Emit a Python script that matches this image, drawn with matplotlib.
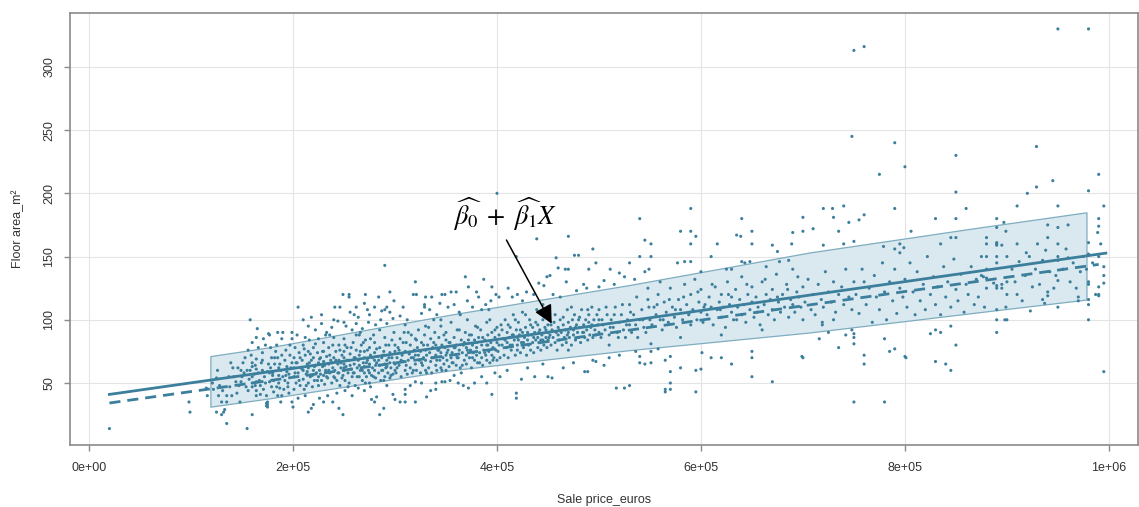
import matplotlib.pyplot as plt
from matplotlib.ticker import FuncFormatter

# sale price (thousand euros), floor area (m2)
pts_under_200k = [
    (20, 14), (98, 35), (99, 27), (115, 46), (116, 40), (125, 54), (127, 40), (130, 35), (135, 40), (140, 40),
    (135, 35), (133, 29), (125, 27), (130, 25), (135, 18), (132, 27), (160, 25), (155, 14), (138, 47), (144, 51),
    (149, 51), (149, 60), (155, 60), (154, 47), (160, 47), (160, 50), (160, 55), (164, 51), (164, 44), (164, 40),
    (168, 41), (174, 40), (174, 34), (174, 32), (160, 66), (160, 63), (164, 69), (164, 61), (170, 74), (170, 68),
    (160, 82), (164, 86), (165, 93), (158, 100), (176, 89), (177, 88), (185, 90), (190, 90), (199, 90), (199, 85),
    (189, 85), (179, 70), (185, 70), (175, 59), (180, 56), (177, 51), (179, 47), (184, 47), (195, 47), (195, 50),
    (189, 40), (175, 35), (175, 33), (175, 31), (185, 40), (194, 63), (194, 59), (187, 65), (158, 60),
    (150, 55), (152, 58), (157, 53), (162, 57), (167, 52), (170, 60), (172, 55), (178, 62), (180, 58), (182, 65),
    (186, 56), (188, 60), (190, 55), (192, 68), (196, 57), (198, 62), (183, 75), (178, 78), (193, 76), (197, 72),
    (168, 48), (171, 45), (181, 43), (186, 50), (191, 45), (196, 42), (145, 42), (142, 55), (128, 48), (122, 45),
    (146, 62), (153, 70), (166, 78), (173, 80), (181, 52), (187, 46), (192, 52), (199, 66), (176, 65), (163, 64),
    (121, 50), (126, 60), (131, 44), (137, 55), (141, 62), (147, 48), (151, 66), (156, 44), (159, 72), (163, 48),
    (166, 58), (169, 66), (173, 50), (177, 58), (182, 70), (186, 62), (189, 72), (193, 56), (197, 80), (171, 85),
    (184, 80), (156, 76), (139, 66), (148, 35), (188, 35),
]
pts_200_300k = [
    (205, 110), (241, 110), (246, 110), (249, 120), (255, 120), (255, 118), (271, 120), (295, 122), (270, 113), (299, 115),
    (280, 110), (287, 107), (290, 108), (295, 106), (260, 104), (264, 102), (256, 106), (275, 104), (290, 143), (210, 100),
    (215, 95), (222, 92), (228, 97), (233, 90), (238, 94), (244, 99), (252, 95), (258, 92), (262, 97), (268, 93),
    (274, 98), (281, 96), (286, 100), (292, 97), (298, 101), (204, 88), (212, 86), (236, 88), (266, 90),
    (199, 35), (200, 31), (215, 27), (220, 33), (230, 35), (239, 35), (249, 25), (277, 37), (282, 39), (289, 30),
    (285, 25), (280, 35), (298, 41), (300, 37), (205, 38), (212, 40), (226, 38), (234, 40), (243, 42), (251, 44),
    (258, 40), (264, 46), (270, 44), (276, 47), (292, 48), (218, 30), (245, 30),
    (201, 45), (201, 55), (201, 62), (201, 70), (202, 78), (203, 50), (204, 66), (205, 58), (206, 74), (207, 48),
    (208, 62), (209, 68), (210, 53), (210, 60), (210, 80), (211, 45), (212, 72), (213, 57), (214, 65), (215, 50),
    (215, 62), (215, 75), (216, 84), (217, 55), (218, 68), (219, 47), (220, 60), (220, 70), (220, 78), (221, 52),
    (222, 64), (223, 58), (224, 74), (225, 48), (225, 55), (225, 66), (225, 85), (226, 60), (227, 70), (228, 52),
    (229, 63), (230, 56), (230, 67), (230, 75), (230, 82), (231, 49), (232, 60), (233, 71), (234, 54), (235, 65),
    (235, 78), (236, 58), (237, 68), (238, 50), (239, 62), (240, 55), (240, 70), (240, 86), (241, 60), (242, 75),
    (243, 52), (244, 65), (245, 58), (245, 68), (245, 80), (246, 48), (247, 62), (248, 72), (249, 56), (250, 60),
    (250, 65), (250, 70), (250, 75), (250, 85), (251, 52), (252, 63), (253, 78), (254, 58), (255, 68), (255, 50),
    (256, 73), (257, 61), (258, 55), (259, 82), (260, 65), (260, 70), (260, 58), (261, 48), (262, 76), (263, 62),
    (264, 68), (265, 55), (265, 72), (265, 88), (266, 60), (267, 80), (268, 52), (269, 66), (270, 58), (270, 63),
    (270, 70), (270, 75), (271, 84), (272, 55), (273, 68), (274, 60), (275, 50), (275, 65), (275, 78), (276, 72),
    (277, 56), (278, 62), (279, 88), (280, 60), (280, 68), (280, 74), (280, 82), (281, 54), (282, 66), (283, 71),
    (284, 58), (285, 64), (285, 78), (286, 52), (287, 70), (288, 60), (289, 75), (290, 55), (290, 65), (290, 72),
    (290, 86), (291, 62), (292, 68), (293, 58), (294, 80), (295, 54), (295, 66), (295, 74), (296, 62), (297, 70),
    (298, 57), (299, 90), (300, 65), (300, 75), (300, 60), (300, 80),
    (202, 58), (203, 66), (206, 52), (207, 70), (209, 61), (211, 77), (213, 48), (214, 59), (216, 66), (217, 73),
    (219, 56), (221, 63), (222, 81), (224, 52), (226, 69), (227, 57), (229, 75), (231, 64), (232, 88), (233, 55),
    (235, 60), (236, 72), (238, 66), (239, 80), (241, 54), (242, 68), (244, 58), (246, 76), (247, 66), (248, 54),
    (250, 62), (251, 80), (253, 68), (254, 47), (256, 64), (257, 78), (259, 58), (261, 70), (262, 88), (263, 55),
    (265, 64), (266, 75), (268, 60), (269, 82), (271, 50), (272, 66), (273, 76), (275, 58), (276, 85), (278, 70),
    (279, 55), (281, 64), (282, 77), (284, 68), (285, 92), (287, 60), (288, 72), (289, 52), (291, 80), (292, 63),
    (294, 70), (296, 56), (297, 84), (299, 66), (240, 100), (228, 104), (262, 110), (284, 118), (250, 98), (218, 102),
    (273, 108), (292, 110),
]
pts_300_450k = [
    (318, 120), (321, 120), (336, 118), (346, 120), (349, 120), (329, 112), (329, 110), (320, 130), (369, 134), (387, 132),
    (395, 126), (305, 103), (312, 100), (326, 105), (334, 108), (341, 104), (352, 110), (358, 112), (363, 106), (371, 115),
    (376, 110), (382, 118), (389, 112), (394, 115), (399, 120), (308, 110), (344, 113), (360, 122), (380, 122), (392, 108),
    (305, 35), (310, 35), (310, 45), (310, 41), (320, 35), (331, 39), (340, 50), (340, 45), (346, 51), (349, 51),
    (320, 51), (326, 50), (354, 52), (362, 50), (367, 48), (372, 46), (378, 50), (395, 41), (315, 48), (335, 44),
    (358, 56), (385, 55), (390, 50), (398, 58), (365, 58),
    (301, 58), (302, 70), (303, 78), (304, 64), (305, 85), (306, 55), (307, 72), (308, 67), (309, 90), (310, 60),
    (310, 75), (311, 82), (312, 57), (313, 68), (314, 73), (315, 62), (315, 80), (316, 88), (317, 58), (318, 70),
    (319, 76), (320, 65), (320, 72), (320, 85), (321, 60), (322, 78), (323, 92), (324, 68), (325, 58), (325, 75),
    (326, 82), (327, 64), (328, 70), (329, 88), (330, 60), (330, 68), (330, 76), (330, 95), (331, 72), (332, 80),
    (333, 62), (334, 74), (335, 67), (335, 85), (336, 58), (337, 78), (338, 70), (339, 90), (340, 64), (340, 72),
    (340, 80), (341, 60), (342, 76), (343, 86), (344, 68), (345, 62), (345, 74), (345, 95), (346, 80), (347, 70),
    (348, 65), (349, 78), (350, 60), (350, 72), (350, 84), (350, 90), (351, 68), (352, 76), (353, 63), (354, 82),
    (355, 70), (355, 98), (356, 74), (357, 66), (358, 86), (359, 78), (360, 64), (360, 72), (360, 80), (361, 92),
    (362, 70), (363, 76), (364, 62), (365, 84), (366, 74), (367, 80), (368, 68), (369, 90), (370, 72), (370, 78),
    (370, 65), (371, 100), (372, 84), (373, 70), (374, 76), (375, 62), (375, 88), (376, 80), (377, 74), (378, 68),
    (379, 95), (380, 72), (380, 82), (380, 78), (381, 66), (382, 86), (383, 74), (384, 92), (385, 70), (385, 80),
    (386, 64), (387, 76), (388, 84), (389, 72), (390, 68), (390, 80), (390, 98), (391, 88), (392, 75), (393, 66),
    (394, 82), (395, 72), (395, 90), (396, 78), (397, 70), (398, 86), (399, 76), (400, 68), (400, 82), (400, 94),
    (302, 62), (304, 76), (306, 68), (308, 82), (311, 64), (313, 90), (316, 70), (318, 60), (321, 84), (323, 72),
    (326, 66), (328, 80), (331, 58), (333, 94), (336, 70), (338, 82), (341, 68), (343, 76), (346, 60), (348, 88),
    (351, 74), (353, 82), (356, 66), (358, 78), (361, 70), (363, 92), (366, 64), (368, 82), (371, 76), (373, 88),
    (376, 70), (378, 84), (381, 94), (383, 66), (386, 86), (388, 74), (391, 80), (393, 100), (396, 68), (398, 92),
    (402, 80), (405, 92), (408, 84), (411, 96), (413, 80), (416, 88), (418, 100), (421, 84), (423, 92), (426, 82),
    (428, 104), (431, 88), (433, 96), (436, 86), (438, 98), (441, 90), (443, 84), (446, 106), (448, 92), (451, 86),
    (330, 118), (355, 122), (372, 126), (338, 100), (364, 104), (385, 108), (402, 118), (420, 120), (445, 112), (310, 96),
    (345, 100),
]
pts_400_550k = [
    (400, 200), (470, 166), (439, 164), (494, 156), (419, 150), (458, 149), (476, 151), (480, 151), (460, 141), (467, 140),
    (470, 140), (490, 140), (511, 140), (497, 145), (411, 125), (429, 122), (436, 120), (441, 129), (446, 127), (449, 134),
    (452, 135), (468, 130), (478, 123), (520, 137), (530, 145), (540, 150), (505, 131), (485, 128), (425, 115), (415, 118),
    (455, 120), (462, 118), (488, 125), (500, 126), (515, 128), (525, 134), (535, 132), (545, 138), (548, 125),
    (403, 55), (419, 42), (419, 38), (424, 53), (437, 55), (450, 55), (454, 54), (486, 59), (489, 59), (517, 46),
    (525, 46), (494, 68), (497, 67), (410, 60), (430, 62), (445, 65), (465, 62), (475, 66), (505, 64), (510, 70),
    (530, 48), (540, 71), (545, 65), (536, 75), (520, 72),
    (401, 75), (402, 88), (403, 70), (404, 96), (405, 80), (406, 85), (407, 72), (408, 100), (409, 78), (410, 90),
    (410, 82), (411, 70), (412, 86), (413, 94), (414, 76), (415, 88), (415, 80), (416, 104), (417, 84), (418, 72),
    (419, 92), (420, 80), (420, 86), (420, 76), (421, 98), (422, 88), (423, 74), (424, 82), (425, 90), (425, 106),
    (426, 78), (427, 86), (428, 94), (429, 72), (430, 84), (430, 90), (431, 80), (432, 100), (433, 76), (434, 88),
    (435, 82), (435, 94), (436, 74), (437, 90), (438, 84), (439, 108), (440, 78), (440, 86), (440, 96), (441, 82),
    (442, 92), (443, 76), (444, 88), (445, 84), (445, 100), (446, 80), (447, 94), (448, 86), (449, 78), (450, 90),
    (450, 96), (450, 84), (451, 104), (452, 88), (453, 80), (454, 92), (455, 86), (456, 98), (457, 82), (458, 90),
    (459, 76), (460, 94), (460, 88), (461, 84), (462, 100), (463, 90), (464, 80), (465, 96), (466, 86), (467, 92),
    (468, 82), (469, 108), (470, 90), (470, 98), (471, 86), (472, 94), (473, 80), (474, 100), (475, 88), (475, 92),
    (476, 104), (477, 84), (478, 96), (479, 90), (480, 86), (480, 100), (481, 94), (482, 82), (483, 108), (484, 90),
    (485, 96), (486, 86), (487, 100), (488, 92), (489, 84), (490, 98), (490, 104), (491, 88), (492, 94), (493, 110),
    (494, 86), (495, 100), (496, 92), (497, 88), (498, 104), (499, 96), (500, 90), (500, 100), (500, 108), (502, 86),
    (504, 96), (506, 92), (508, 104), (510, 88), (512, 100), (514, 94), (516, 110), (518, 90), (520, 98), (522, 104),
    (524, 92), (526, 86), (528, 100), (530, 96), (530, 112), (532, 90), (534, 104), (536, 96), (538, 86), (540, 100),
    (542, 108), (544, 94), (546, 90), (548, 116), (550, 100),
    (453, 96), (457, 104), (461, 92), (465, 102), (469, 88), (473, 110), (477, 94), (481, 102), (485, 90), (489, 108),
    (493, 96), (503, 100), (507, 110), (511, 94), (515, 104), (519, 86), (523, 112), (527, 96), (531, 106), (537, 118),
    (543, 100), (549, 110), (510, 80), (470, 76),
]
pts_550_750k = [
    (590, 188), (540, 180), (640, 180), (700, 181), (700, 170), (690, 169), (580, 170), (590, 170), (595, 166), (545, 163),
    (551, 160), (590, 160), (616, 160), (635, 167), (639, 166), (650, 170), (650, 160), (670, 159), (675, 154), (689, 160),
    (551, 150), (610, 150), (577, 145), (584, 146), (590, 146), (549, 140), (625, 140), (630, 140), (643, 145), (648, 146),
    (664, 142), (677, 146), (686, 147), (720, 188), (729, 188), (740, 190), (730, 181), (740, 160), (720, 159), (750, 162),
    (735, 170), (710, 172), (745, 177),
    (565, 68), (570, 71), (580, 62), (610, 70), (620, 70), (630, 65), (650, 75), (650, 70), (570, 59), (570, 50),
    (565, 45), (565, 43), (570, 45), (595, 60), (600, 61), (595, 43), (650, 55), (670, 51), (699, 71), (551, 81),
    (551, 75), (551, 66), (540, 66), (558, 77), (601, 74), (719, 98), (719, 96), (730, 100), (735, 78), (700, 70),
    (716, 85), (725, 90), (742, 88), (748, 92),
    (552, 96), (554, 110), (556, 104), (558, 120), (560, 100), (562, 92), (564, 114), (566, 106), (568, 98), (570, 125),
    (572, 110), (574, 102), (576, 94), (578, 116), (580, 108), (582, 100), (584, 128), (586, 112), (588, 104), (590, 96),
    (590, 120), (592, 108), (594, 132), (596, 100), (598, 114), (600, 106), (600, 124), (602, 98), (604, 112), (606, 104),
    (608, 118), (610, 110), (612, 96), (614, 126), (616, 108), (618, 114), (620, 102), (620, 120), (622, 110), (624, 94),
    (626, 130), (628, 112), (630, 106), (630, 118), (632, 100), (634, 124), (636, 110), (638, 116), (640, 104), (640, 134),
    (642, 112), (644, 98), (646, 120), (648, 108), (650, 114), (650, 126), (652, 102), (654, 118), (656, 110), (658, 96),
    (660, 130), (662, 112), (664, 120), (666, 104), (668, 116), (670, 108), (670, 124), (672, 100), (674, 136), (676, 114),
    (678, 106), (680, 120), (682, 110), (684, 128), (686, 102), (688, 116), (690, 112), (690, 140), (692, 106), (694, 122),
    (696, 118), (698, 110), (700, 126), (700, 100), (702, 114), (705, 132), (708, 108), (710, 120), (712, 104), (715, 128),
    (718, 116), (720, 110), (722, 138), (725, 122), (728, 114), (730, 130), (732, 106), (735, 120), (738, 126), (740, 112),
    (742, 140), (745, 118), (748, 108), (750, 130),
    (557, 112), (563, 100), (569, 116), (575, 108), (583, 118), (589, 106), (597, 122), (603, 110), (611, 128), (619, 108),
    (627, 120), (635, 100), (645, 128), (655, 106), (663, 132), (675, 118), (685, 124), (695, 134), (560, 130), (600, 138),
    (640, 146), (580, 86), (620, 88), (660, 92),
]
pts_over_750k = [
    (750, 313), (760, 316), (950, 330), (980, 330), (748, 245), (790, 240), (850, 230), (929, 237), (800, 221), (775, 215),
    (990, 215), (980, 202), (850, 201), (920, 200), (929, 205), (945, 210), (950, 190), (995, 190), (790, 188), (830, 180),
    (850, 180), (890, 180), (860, 188), (910, 190), (990, 180), (990, 174), (989, 169), (940, 175), (950, 173), (960, 175),
    (806, 170), (890, 173), (899, 170), (845, 165), (850, 165), (880, 165), (940, 165), (779, 158), (795, 160), (799, 157),
    (835, 160), (890, 160), (910, 160), (930, 160), (950, 160), (980, 161), (755, 179), (760, 183), (897, 177), (880, 160),
    (890, 159), (895, 159), (890, 161), (790, 156), (795, 153), (919, 153),
    (995, 59), (760, 65), (830, 67), (840, 65), (845, 60), (800, 71), (785, 75), (790, 77), (780, 85), (850, 80),
    (750, 81), (750, 86), (750, 89), (825, 89), (830, 92), (835, 90), (890, 90), (845, 95), (980, 100), (750, 35),
    (780, 35), (890, 100), (898, 100), (900, 100), (801, 70), (760, 72),
    (880, 150), (890, 150), (900, 150), (890, 145), (935, 147), (950, 150), (950, 147), (960, 149), (990, 150), (980, 152),
    (995, 142), (995, 135), (995, 129), (990, 126), (990, 120), (990, 119), (987, 120), (980, 130), (980, 128), (980, 116),
    (980, 112), (970, 118), (970, 115), (875, 135), (880, 133), (877, 134), (880, 125), (890, 125), (890, 127), (895, 125),
    (895, 128), (900, 130), (887, 129), (900, 120), (910, 120), (925, 126), (915, 115), (923, 107), (935, 116), (937, 113),
    (940, 122), (940, 119), (950, 131), (948, 135), (950, 110), (899, 110), (890, 108),
    (752, 120), (755, 105), (758, 140), (760, 130), (762, 112), (765, 125), (768, 98), (770, 135), (772, 118), (775, 108),
    (778, 145), (780, 122), (782, 100), (785, 130), (788, 115), (790, 140), (792, 105), (795, 125), (798, 118), (800, 132),
    (802, 110), (805, 145), (808, 122), (810, 104), (812, 138), (815, 115), (818, 128), (820, 108), (822, 150), (825, 120),
    (828, 134), (830, 112), (832, 126), (835, 104), (838, 142), (840, 118), (842, 130), (845, 110), (848, 148), (850, 124),
    (852, 115), (855, 136), (858, 106), (860, 128), (862, 120), (865, 142), (868, 112), (870, 132), (872, 118), (875, 150),
    (878, 110), (880, 140), (905, 140), (908, 130), (912, 146), (918, 135), (922, 150), (928, 140), (932, 128), (938, 155),
    (942, 138), (946, 125), (955, 140), (958, 156), (962, 130), (965, 145), (968, 125), (972, 138), (975, 150), (978, 140),
    (984, 145), (992, 160),
]

# fitted line (solid), second fit (dashed) and the shaded band
fit_price_k = [20, 997]
fit_area = [41, 152.7]
fit2_price_k = [20, 990]
fit2_area = [34.2, 143.8]
band_price_k = [119, 178, 354, 530, 707, 873, 978]
band_upper = [71.3, 78.4, 104, 127.5, 153.3, 173, 185]
band_lower = [31.3, 38, 60, 76, 90, 106, 116]

all_pts = pts_under_200k + pts_200_300k + pts_300_450k + pts_400_550k + pts_550_750k + pts_over_750k
price = [p * 1000 for p, a in all_pts]
area = [a for p, a in all_pts]

teal = '#3b7f9c'
plt.rcParams['font.family'] = ['Liberation Sans', 'DejaVu Sans']
plt.rcParams['mathtext.fontset'] = 'stix'

fig = plt.figure(figsize=(11.39, 5.07), dpi=100)
ax = fig.add_axes([0.0615, 0.1223, 0.9375, 0.8521])

bx = [p * 1000 for p in band_price_k]
ax.fill_between(bx, band_lower, band_upper, color='#dae8ef', edgecolor='#7fadc0', lw=0.9, zorder=1)
ax.scatter(price, area, s=5, color=teal, edgecolors='none', zorder=2)
ax.plot([p * 1000 for p in fit_price_k], fit_area, color=teal, lw=2, zorder=3)
ax.plot([p * 1000 for p in fit2_price_k], fit2_area, color=teal, lw=2, ls=(0, (4, 2.5)), zorder=3)

ax.text(408e3, 183, r'$\widehat{\beta_0}\;+\;\widehat{\beta_1}X$', fontsize=19, ha='center', va='center')
ax.annotate('', xy=(455e3, 95), xytext=(408e3, 165),
            arrowprops=dict(arrowstyle='-|>', color='black', lw=1.1, mutation_scale=28), zorder=4)

ax.set_xlim(-18600, 1028400)
ax.set_ylim(1, 342.6)
ax.set_xticks([0, 2e5, 4e5, 6e5, 8e5, 1e6])
ax.set_yticks([50, 100, 150, 200, 250, 300])
ax.xaxis.set_major_formatter(FuncFormatter(lambda v, pos: f'{v:.0e}'))
ax.grid(True, color='#e4e4e4', lw=0.8)
ax.set_axisbelow(True)
for s in ax.spines.values():
    s.set_color('#8a8a8a')
    s.set_linewidth(1.2)
ax.tick_params(axis='both', colors='#8a8a8a', labelcolor='#333333', labelsize=9, length=4.5, width=1)
ax.tick_params(axis='x', pad=8)
ax.tick_params(axis='y', pad=6)
for lab in ax.get_yticklabels():
    lab.set_rotation(90)
    lab.set_va('center')

ax.set_xlabel('Sale price_euros', fontsize=9, color='#333333', labelpad=14)
ax.set_ylabel('Floor area_m²', fontsize=9, color='#333333', labelpad=14)

plt.savefig('out.png', dpi=100)
